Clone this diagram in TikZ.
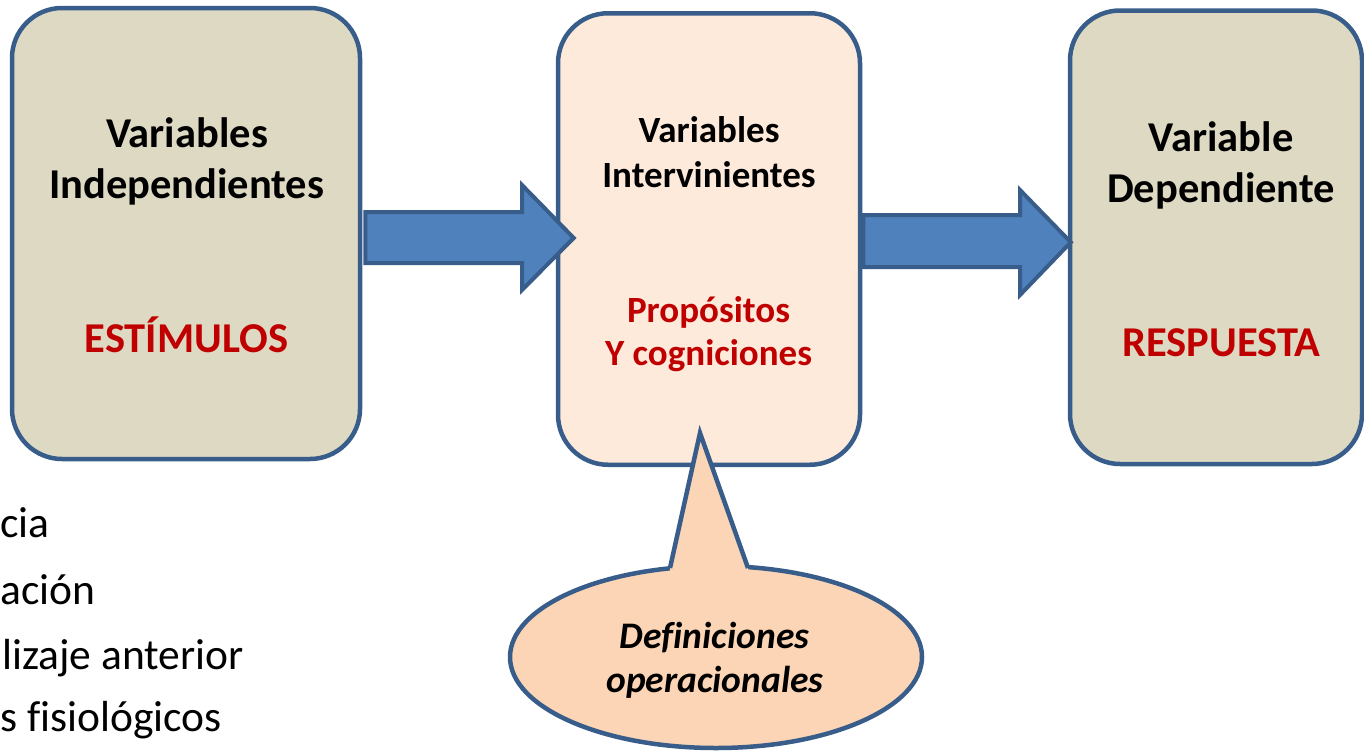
\documentclass[tikz,border=0pt]{standalone}
\usepackage{fontspec}
\setmainfont{Carlito}[Ligatures=CommonOff]
\usetikzlibrary{shapes.geometric,calc}
\definecolor{edgeblue}{HTML}{385D8A}
\definecolor{tanfill}{HTML}{DDD9C3}
\definecolor{pinkfill}{HTML}{FDEADA}
\definecolor{arrowfill}{HTML}{4F81BD}
\definecolor{callfill}{HTML}{FBD5B5}
\definecolor{darkred}{HTML}{C00000}
\tikzset{
  varbox/.style={draw=edgeblue, line width=4.5pt, rounded corners=50pt, rectangle, inner sep=0pt},
  blockarrow/.style={draw=edgeblue, fill=arrowfill, line width=4pt, line join=miter},
  bigtxt/.style={font=\fontsize{42.5}{42.5}\selectfont\bfseries, inner sep=0pt, anchor=base},
  midtxt/.style={font=\fontsize{37}{37}\selectfont\bfseries, inner sep=0pt, anchor=base},
  calltxt/.style={font=\fontsize{37.5}{37.5}\selectfont\bfseries\itshape, inner sep=0pt, anchor=base},
  listtxt/.style={font=\fontsize{43.5}{43.5}\selectfont, inner sep=0pt, anchor=base west},
}
\begin{document}
\begin{tikzpicture}[x=1pt,y=-1pt]
\useasboundingbox (0,0) rectangle (1364,750);
\clip (0,0) rectangle (1364,750);
% boxes
\node[varbox, fill=tanfill, minimum width=348pt, minimum height=451pt] (ind) at (186,233.5) {};
\node[varbox, fill=pinkfill, minimum width=302pt, minimum height=451.5pt] (int) at (709,239) {};
\node[varbox, fill=tanfill, minimum width=292pt, minimum height=453.5pt] (dep) at (1216,237.25) {};
% block arrows
\draw[blockarrow] ($(ind.east)+(3,-21.5)$) -- (522,212) -- (522,185) -- ($(int.west)+(18,-1)$)
  -- (522,290) -- (522,263) -- ($(ind.east)+(3,29.5)$) -- cycle;
\draw[blockarrow] ($(int.east)+(1,-24)$) -- (1020,215) -- (1020,190) -- ($(dep.west)+(3,5)$)
  -- (1020,295) -- (1020,267) -- ($(int.east)+(1,28)$) -- cycle;
% texts
\node[bigtxt] (t1) at (187,147) {Variables};
\node[bigtxt] (t2) at (186.5,198) {Independientes};
\node[bigtxt, text=darkred] (t3) at (186.5,352) {ESTÍMULOS};
\node[midtxt] (t4) at (709,142) {Variables};
\node[midtxt] (t5) at (709,187) {Intervinientes};
\node[midtxt, text=darkred] (t6) at (708.5,322) {Propósitos};
\node[midtxt, text=darkred] (t7) at (708.5,365) {Y cogniciones};
\node[bigtxt] (t8) at (1221,151) {Variable};
\node[bigtxt] (t9) at (1221,202) {Dependiente};
\node[bigtxt, text=darkred] (t10) at (1221.5,356) {RESPUESTA};
% callout
\node[ellipse, draw=edgeblue, fill=callfill, line width=4.5pt, minimum width=412pt, minimum height=182pt, inner sep=0pt] (call) at (716,657) {};
\coordinate (tip) at (700,433);
\coordinate (bl) at (670,568);
\coordinate (br) at (748,568);
\fill[callfill] (tip) -- (bl) -- (670,585) -- (748,585) -- (br) -- cycle;
\draw[edgeblue, line width=4.5pt, line join=miter] (bl) -- (tip) -- (br);
\node[calltxt] (c1) at (714.5,648) {Definiciones};
\node[calltxt] (c2) at (715,692) {operacionales};
% list fragments
\node[listtxt] (l1) at (0,537) {cia};
\node[listtxt] (l2) at (0,604) {ación};
\node[listtxt] (l3) at (2,669) {lizaje anterior};
\node[listtxt] (l4) at (0,731) {s fisiológicos};
\end{tikzpicture}
\end{document}
